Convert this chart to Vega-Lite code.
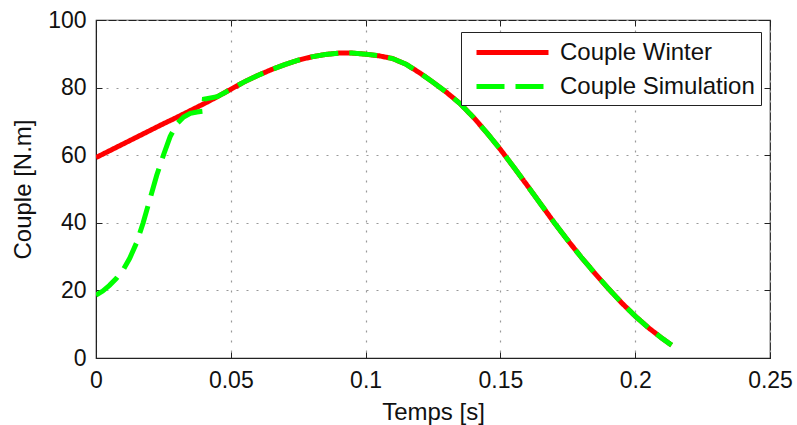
{
  "$schema": "https://vega.github.io/schema/vega-lite/v6.json",
  "autosize": {"type": "none"},
  "width": 674,
  "height": 338,
  "padding": {"left": 96, "top": 20, "right": 27, "bottom": 67},
  "background": "white",
  "config": {
    "view": {"stroke": "#222222", "strokeWidth": 1.2},
    "font": "Liberation Sans",
    "axis": {
      "labelFont": "Liberation Sans",
      "titleFont": "Liberation Sans",
      "labelFontSize": 23,
      "titleFontSize": 24,
      "labelColor": "#111111",
      "titleColor": "#111111",
      "titleFontWeight": "normal",
      "domainColor": "#222222",
      "tickColor": "#222222",
      "gridColor": "#999999",
      "gridDash": [2, 8],
      "gridWidth": 1.2,
      "labelFlush": false
    }
  },
  "data": {
    "values": [
      {"t": 0, "v": 59.3, "s": "Couple Winter"},
      {"t": 0.005, "v": 61.3, "s": "Couple Winter"},
      {"t": 0.01, "v": 63.3, "s": "Couple Winter"},
      {"t": 0.015, "v": 65.3, "s": "Couple Winter"},
      {"t": 0.02, "v": 67.3, "s": "Couple Winter"},
      {"t": 0.025, "v": 69.3, "s": "Couple Winter"},
      {"t": 0.03, "v": 71.2, "s": "Couple Winter"},
      {"t": 0.035, "v": 73.2, "s": "Couple Winter"},
      {"t": 0.04, "v": 75.2, "s": "Couple Winter"},
      {"t": 0.045, "v": 77.3, "s": "Couple Winter"},
      {"t": 0.05, "v": 79.5, "s": "Couple Winter"},
      {"t": 0.055, "v": 81.7, "s": "Couple Winter"},
      {"t": 0.06, "v": 83.6, "s": "Couple Winter"},
      {"t": 0.065, "v": 85.3, "s": "Couple Winter"},
      {"t": 0.07, "v": 86.8, "s": "Couple Winter"},
      {"t": 0.075, "v": 88.1, "s": "Couple Winter"},
      {"t": 0.08, "v": 89.1, "s": "Couple Winter"},
      {"t": 0.085, "v": 89.8, "s": "Couple Winter"},
      {"t": 0.09, "v": 90.2, "s": "Couple Winter"},
      {"t": 0.095, "v": 90.2, "s": "Couple Winter"},
      {"t": 0.1, "v": 89.9, "s": "Couple Winter"},
      {"t": 0.105, "v": 89.4, "s": "Couple Winter"},
      {"t": 0.11, "v": 88.6, "s": "Couple Winter"},
      {"t": 0.115, "v": 86.9, "s": "Couple Winter"},
      {"t": 0.12, "v": 84.4, "s": "Couple Winter"},
      {"t": 0.125, "v": 81.6, "s": "Couple Winter"},
      {"t": 0.13, "v": 78.6, "s": "Couple Winter"},
      {"t": 0.135, "v": 75.3, "s": "Couple Winter"},
      {"t": 0.14, "v": 71.2, "s": "Couple Winter"},
      {"t": 0.145, "v": 66.6, "s": "Couple Winter"},
      {"t": 0.15, "v": 61.7, "s": "Couple Winter"},
      {"t": 0.155, "v": 56.4, "s": "Couple Winter"},
      {"t": 0.16, "v": 51.0, "s": "Couple Winter"},
      {"t": 0.165, "v": 45.5, "s": "Couple Winter"},
      {"t": 0.17, "v": 40.0, "s": "Couple Winter"},
      {"t": 0.175, "v": 34.8, "s": "Couple Winter"},
      {"t": 0.18, "v": 29.8, "s": "Couple Winter"},
      {"t": 0.185, "v": 25.1, "s": "Couple Winter"},
      {"t": 0.19, "v": 20.6, "s": "Couple Winter"},
      {"t": 0.195, "v": 16.3, "s": "Couple Winter"},
      {"t": 0.2, "v": 12.4, "s": "Couple Winter"},
      {"t": 0.205, "v": 8.9, "s": "Couple Winter"},
      {"t": 0.21, "v": 5.8, "s": "Couple Winter"},
      {"t": 0.2135, "v": 3.8, "s": "Couple Winter"},
      {"t": 0, "v": 18.6, "s": "Couple Simulation"},
      {"t": 0.0025, "v": 19.8, "s": "Couple Simulation"},
      {"t": 0.005, "v": 21.5, "s": "Couple Simulation"},
      {"t": 0.0075, "v": 23.5, "s": "Couple Simulation"},
      {"t": 0.01, "v": 26.0, "s": "Couple Simulation"},
      {"t": 0.0125, "v": 29.5, "s": "Couple Simulation"},
      {"t": 0.015, "v": 34.0, "s": "Couple Simulation"},
      {"t": 0.0175, "v": 40.0, "s": "Couple Simulation"},
      {"t": 0.02, "v": 47.0, "s": "Couple Simulation"},
      {"t": 0.0225, "v": 54.0, "s": "Couple Simulation"},
      {"t": 0.025, "v": 60.0, "s": "Couple Simulation"},
      {"t": 0.0275, "v": 65.5, "s": "Couple Simulation"},
      {"t": 0.03, "v": 69.3, "s": "Couple Simulation"},
      {"t": 0.0325, "v": 71.3, "s": "Couple Simulation"},
      {"t": 0.035, "v": 72.4, "s": "Couple Simulation"},
      {"t": 0.0375, "v": 72.8, "s": "Couple Simulation"},
      {"t": 0.0398, "v": 73.0, "s": "Couple Simulation"},
      {"t": 0.0402, "v": 76.6, "s": "Couple Simulation"},
      {"t": 0.045, "v": 77.3, "s": "Couple Simulation"},
      {"t": 0.05, "v": 79.5, "s": "Couple Simulation"},
      {"t": 0.055, "v": 81.7, "s": "Couple Simulation"},
      {"t": 0.06, "v": 83.6, "s": "Couple Simulation"},
      {"t": 0.065, "v": 85.3, "s": "Couple Simulation"},
      {"t": 0.07, "v": 86.8, "s": "Couple Simulation"},
      {"t": 0.075, "v": 88.1, "s": "Couple Simulation"},
      {"t": 0.08, "v": 89.1, "s": "Couple Simulation"},
      {"t": 0.085, "v": 89.8, "s": "Couple Simulation"},
      {"t": 0.09, "v": 90.2, "s": "Couple Simulation"},
      {"t": 0.095, "v": 90.2, "s": "Couple Simulation"},
      {"t": 0.1, "v": 89.9, "s": "Couple Simulation"},
      {"t": 0.105, "v": 89.4, "s": "Couple Simulation"},
      {"t": 0.11, "v": 88.6, "s": "Couple Simulation"},
      {"t": 0.115, "v": 86.9, "s": "Couple Simulation"},
      {"t": 0.12, "v": 84.4, "s": "Couple Simulation"},
      {"t": 0.125, "v": 81.6, "s": "Couple Simulation"},
      {"t": 0.13, "v": 78.6, "s": "Couple Simulation"},
      {"t": 0.135, "v": 75.3, "s": "Couple Simulation"},
      {"t": 0.14, "v": 71.2, "s": "Couple Simulation"},
      {"t": 0.145, "v": 66.6, "s": "Couple Simulation"},
      {"t": 0.15, "v": 61.7, "s": "Couple Simulation"},
      {"t": 0.155, "v": 56.4, "s": "Couple Simulation"},
      {"t": 0.16, "v": 51.0, "s": "Couple Simulation"},
      {"t": 0.165, "v": 45.5, "s": "Couple Simulation"},
      {"t": 0.17, "v": 40.0, "s": "Couple Simulation"},
      {"t": 0.175, "v": 34.8, "s": "Couple Simulation"},
      {"t": 0.18, "v": 29.8, "s": "Couple Simulation"},
      {"t": 0.185, "v": 25.1, "s": "Couple Simulation"},
      {"t": 0.19, "v": 20.6, "s": "Couple Simulation"},
      {"t": 0.195, "v": 16.3, "s": "Couple Simulation"},
      {"t": 0.2, "v": 12.4, "s": "Couple Simulation"},
      {"t": 0.205, "v": 8.9, "s": "Couple Simulation"},
      {"t": 0.21, "v": 5.8, "s": "Couple Simulation"},
      {"t": 0.2135, "v": 3.8, "s": "Couple Simulation"}
    ]
  },
  "layer": [
    {
      "transform": [{"filter": "datum.s === 'Couple Winter'"}],
      "mark": {"type": "line", "strokeWidth": 5, "clip": true},
      "encoding": {
        "x": {"field": "t", "type": "quantitative", "scale": {"domain": [0, 0.25], "nice": false},
          "axis": {"orient": "bottom", "title": "Temps [s]", "values": [0, 0.05, 0.1, 0.15, 0.2, 0.25], "format": "~g", "tickSize": -6, "labelPadding": 17, "titlePadding": 8, "grid": true}},
        "y": {"field": "v", "type": "quantitative", "scale": {"domain": [0, 100], "nice": false},
          "axis": {"orient": "left", "title": "Couple [N.m]", "values": [0, 20, 40, 60, 80, 100], "tickSize": -6, "labelPadding": 16, "titlePadding": 12, "grid": true}},
        "color": {"field": "s", "type": "nominal", "scale": {"domain": ["Couple Winter", "Couple Simulation"], "range": ["#ff0000", "#00ff00"]},
          "legend": {"title": null, "orient": "none", "legendX": 365, "legendY": 12, "fillColor": "white", "strokeColor": "#222222", "padding": 6,
            "symbolType": "M-1,0H5", "symbolSize": 576, "symbolStrokeWidth": 5, "symbolOffset": 7, "labelFont": "Liberation Sans", "labelFontSize": 24, "labelColor": "#111111", "labelOffset": 57, "rowPadding": 7, "labelLimit": 400}},
        "strokeDash": {"field": "s", "type": "nominal", "scale": {"domain": ["Couple Winter", "Couple Simulation"], "range": [[1, 0], [28, 11]]}, "legend": null}
      }
    },
    {
      "transform": [{"filter": "datum.s === 'Couple Simulation'"}],
      "mark": {"type": "line", "strokeWidth": 5, "clip": true},
      "encoding": {
        "x": {"field": "t", "type": "quantitative", "axis": null},
        "y": {"field": "v", "type": "quantitative", "axis": null},
        "color": {"field": "s", "type": "nominal"},
        "strokeDash": {"field": "s", "type": "nominal"}
      }
    },
    {
      "mark": {"type": "point", "opacity": 0},
      "encoding": {
        "x": {"field": "t", "type": "quantitative", "axis": {"orient": "top", "title": null, "labels": false, "grid": false, "domain": false, "tickSize": -6, "values": [0, 0.05, 0.1, 0.15, 0.2, 0.25]}},
        "y": {"field": "v", "type": "quantitative", "axis": {"orient": "right", "title": null, "labels": false, "grid": false, "domain": false, "tickSize": -6, "values": [0, 20, 40, 60, 80, 100]}}
      }
    }
  ],
  "resolve": {"axis": {"x": "independent", "y": "independent"}}
}
